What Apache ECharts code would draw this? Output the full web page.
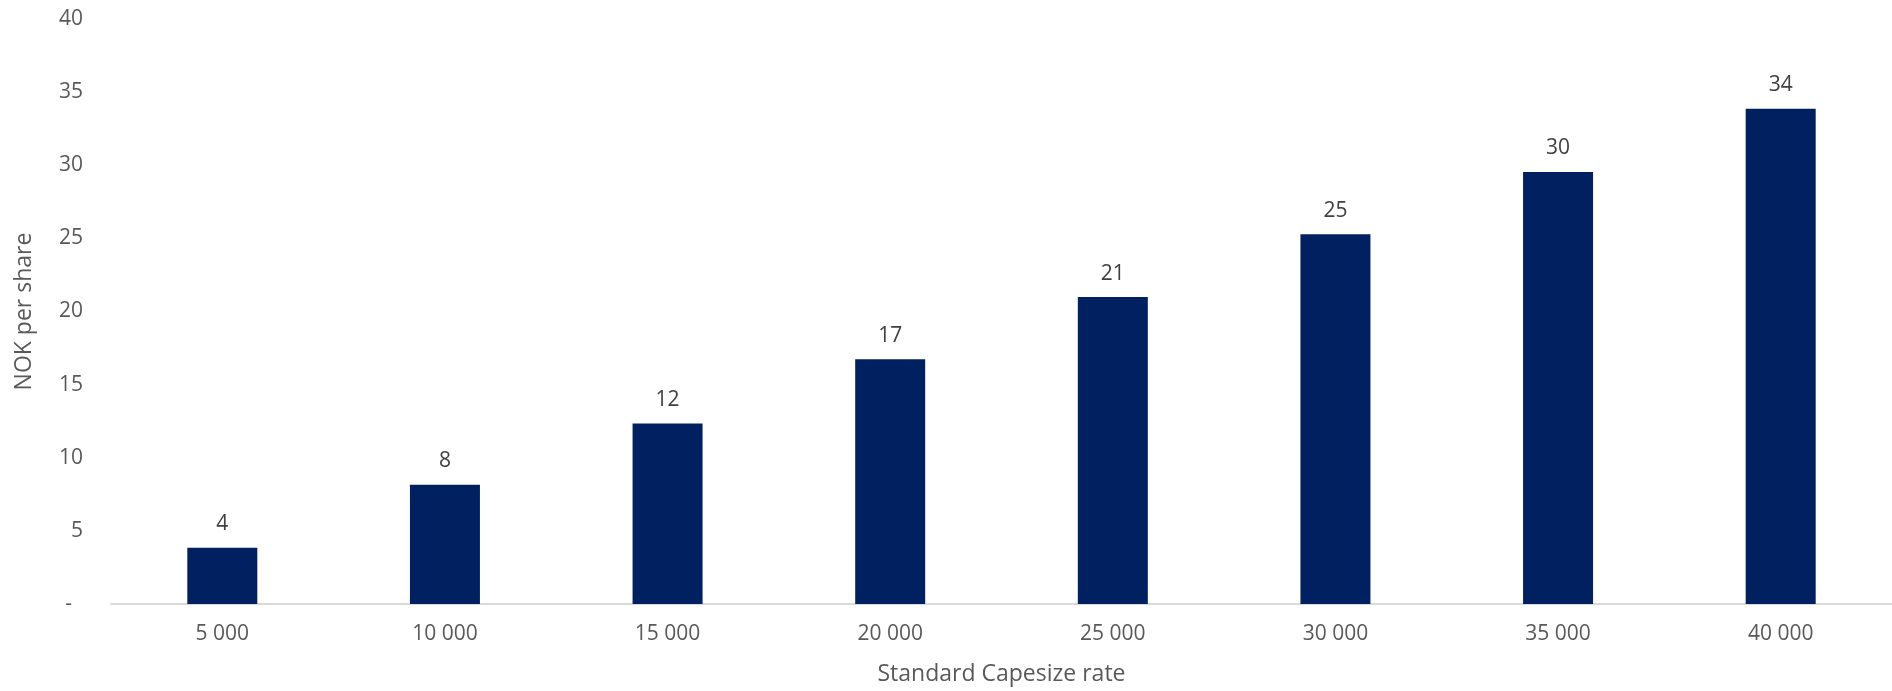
<!DOCTYPE html>
<html>
<head>
<meta charset="utf-8">
<script src="https://cdn.jsdelivr.net/npm/echarts@6/dist/echarts.min.js"></script>
<style>
html,body{margin:0;padding:0;background:#fff;}
#chart{width:1892px;height:691px;}
</style>
</head>
<body>
<div id="chart"></div>
<script>
const categories = ['5 000', '10 000', '15 000', '20 000', '25 000', '30 000', '35 000', '40 000'];
const values = [3.84, 8.15, 12.35, 16.73, 20.99, 25.28, 29.54, 33.86];
const xAxisTitle = 'Standard Capesize rate';
const yAxisTitle = 'NOK per share';

const chart = echarts.init(document.getElementById('chart'), null, {renderer: 'canvas'});
const font = '"Open Sans", sans-serif';
chart.setOption({
  animation: false,
  backgroundColor: '#ffffff',
  grid: {left: 111, right: 0, top: 19, bottom: 85, containLabel: false},
  xAxis: {
    type: 'category',
    data: categories,
    name: xAxisTitle,
    nameLocation: 'middle',
    nameGap: 59,
    nameTextStyle: {fontFamily: font, fontSize: 23, color: '#595959'},
    axisLine: {show: true, lineStyle: {color: '#d9d9d9', width: 2}},
    axisTick: {show: false},
    axisLabel: {fontFamily: font, fontSize: 21, color: '#595959', margin: 20}
  },
  yAxis: {
    type: 'value',
    min: 0, max: 40, interval: 5,
    name: yAxisTitle,
    nameLocation: 'middle',
    nameGap: 75,
    nameRotate: 90,
    nameTextStyle: {fontFamily: font, fontSize: 23, color: '#595959'},
    axisLine: {show: false},
    axisTick: {show: false},
    splitLine: {show: false},
    axisLabel: {
      fontFamily: font, fontSize: 21, color: '#595959', margin: 28,
      formatter: v => v === 0 ? '-  ' : String(v)
    }
  },
  series: [{
    type: 'bar',
    data: values,
    barWidth: 70,
    itemStyle: {color: '#002060'},
    label: {
      show: true, position: 'top', distance: 13,
      fontFamily: font, fontSize: 21, color: '#404040',
      formatter: p => Math.round(p.value)
    }
  }]
});
</script>
</body>
</html>
